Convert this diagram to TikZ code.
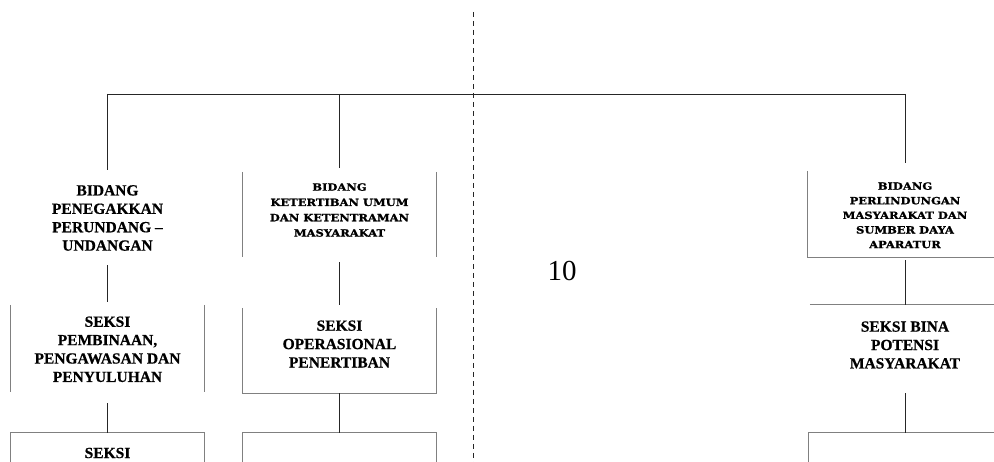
\documentclass[tikz,border=0pt]{standalone}
\usepackage{fontspec}
\setmainfont{Liberation Serif}[BoldFeatures={FakeBold=0.6}]
\newfontfamily\bkfont[FakeStretch=1.15, FakeBold=1.2]{DejaVu Serif Bold}
\begin{document}
\begin{tikzpicture}[x=1pt,y=-1pt,
  conn/.style={draw=black!85, line width=0.9pt},
  bord/.style={draw=black!50, line width=0.8pt},
  boxn/.style={rectangle, draw=none, inner sep=0pt, minimum width=193pt, minimum height=85pt},
  big/.style={font=\fontsize{15.5}{18.4}\selectfont\bfseries, align=center, inner sep=0pt},
  small/.style={font=\bkfont\fontsize{10}{15.3}\selectfont, align=center, inner sep=0pt},
  smallb/.style={font=\bkfont\fontsize{10}{14.6}\selectfont, align=center, inner sep=0pt}]
\useasboundingbox (0,0) rectangle (994,462);
\fill[white] (0,0) rectangle (994,462);
\clip (0,0) rectangle (994,462);

% boxes
\node[boxn] (b1) at (107.5,214.5) {};
\node[boxn] (b2) at (339.5,214.5) {};
\node[boxn, minimum height=87pt] (b3) at (107.5,348.5) {};
\node[boxn] (b4) at (339.5,350.5) {};
\node[boxn] (b5) at (107.5,475.5) {};
\node[boxn] (b6) at (339.5,475.5) {};
\node[boxn, minimum width=194pt, minimum height=86pt] (b7) at (905,214) {};
\node[boxn, minimum width=190pt, minimum height=88pt] (b8) at (905,349) {};
\node[boxn, minimum width=192pt] (b9) at (905,475.5) {};

% texts
\node[big] (t1) at (107.5,218) {BIDANG\\PENEGAKKAN\\PERUNDANG –\\UNDANGAN};
\node[small] (t2) at (339.5,210) {BIDANG\\KETERTIBAN UMUM\\DAN KETENTRAMAN\\MASYARAKAT};
\node[big] (t3) at (107.5,349.3) {SEKSI\\PEMBINAAN,\\PENGAWASAN DAN\\PENYULUHAN};
\node[big] (t4) at (339.5,344) {SEKSI\\OPERASIONAL\\PENERTIBAN};
\node[big] (t5) at (107.5,453) {SEKSI};
\node[smallb] (t7) at (905,215.3) {BIDANG\\PERLINDUNGAN\\MASYARAKAT DAN\\SUMBER DAYA\\APARATUR};
\node[big] (t8) at (905,345) {SEKSI BINA\\POTENSI\\MASYARAKAT};
\node[font=\fontsize{29}{32}\selectfont, inner sep=0pt] (pg) at (562,271) {10};

% box borders
\draw[bord] (b2.north west) -- (b2.south west) (b2.north east) -- (b2.south east);
\draw[bord] (b3.north west) -- (b3.south west) (b3.north east) -- (b3.south east);
\draw[bord] (b4.north west) -- (b4.south west) -- (b4.south east) -- (b4.north east);
\draw[bord] (b5.south west) -- (b5.north west) -- (b5.north east) -- (b5.south east);
\draw[bord] (b6.south west) -- (b6.north west) -- (b6.north east) -- (b6.south east);
\draw[bord] (b7.north west) -- (b7.south west) -- (b7.south east);
\draw[bord] (b8.north west) -- (b8.north east);
\draw[bord] (b9.south west) -- (b9.north west) -- (b9.north east);

% top bar and dashed line
\coordinate (jL) at (107.5,94);
\coordinate (jM) at (339.5,94);
\coordinate (jR) at (905,94);
\coordinate (d1) at (473,12);
\coordinate (d2) at (473,462);
\draw[conn] (jL) -- (jR);
\draw[black!85, line width=0.8pt, dash pattern=on 5pt off 4pt] (d1) -- (d2);

% connectors
\draw[conn, shorten >=2pt] (jL) -- (b1.north);
\draw[conn, shorten >=4pt] (jM) -- (b2.north);
\draw[conn, shorten >=8pt] (jR) -- (b7.north);
\draw[conn, shorten <=8pt, shorten >=3pt] (b1.south) -- (b3.north);
\draw[conn, shorten <=5pt, shorten >=3pt] (b2.south) -- (b4.north);
\draw[conn, shorten <=3pt] (b7.south) -- (b8.north);
\draw[conn, shorten <=11pt] (b3.south) -- (b5.north);
\draw[conn] (b4.south) -- (b6.north);
\draw[conn] (b8.south) -- (b9.north);
\end{tikzpicture}
\end{document}
